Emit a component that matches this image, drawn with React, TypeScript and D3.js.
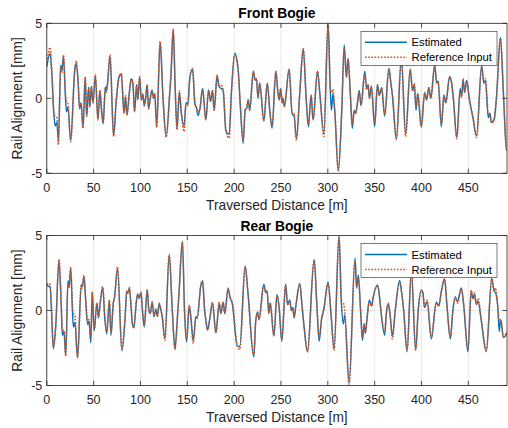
import { useEffect } from "react";
import * as d3 from "d3";

// axis ticks and labels
const xTicks = [0, 50, 100, 150, 200, 250, 300, 350, 400, 450];
const yTicks = [-5, 0, 5];
const seriesNames = ["Estimated", "Reference Input"];
const panelTitles = ["Front Bogie", "Rear Bogie"];
const xLabel = "Traversed Distance [m]";
const yLabel = "Rail Alignment [mm]";

// front bogie (distance in m, alignment in mm)
const frontDist = [
  0, 3.5, 5.5, 7.7, 9, 10.8, 12.4, 14.8, 16, 17.8,
  19.8, 21, 22.5, 25.5, 30, 31.5, 33.6, 35, 36.5, 38.7,
  41, 42.6, 44.7, 46, 47.6, 49.3, 51.8, 54.6, 56.7, 58.3,
  60.2, 62.5, 63.6, 64.8, 67.5, 71.3, 74, 77, 79.5, 82.5,
  84, 85.6, 88, 90.2, 92, 93.7, 95.9, 97.2, 99.1, 101,
  102.6, 104, 105.5, 107.2, 108.6, 111, 112.3, 114, 115.2, 117.3,
  121, 124, 127.5, 131, 132.5, 135, 137, 139, 140.2, 141.5,
  143.5, 146.6, 148.6, 150.5, 152.8, 155.6, 158.2, 159.6, 161.5, 163.5,
  166.3, 169.8, 172.7, 174.8, 176.9, 178.7, 181.8, 183.8, 186, 188.3,
  191.2, 194.7, 197, 200.7, 204.3, 206.6, 209.6, 211.8, 213.5, 215,
  216.6, 220.5, 222.5, 223.8, 225.5, 227.3, 231.7, 235.4, 238, 240.5,
  244.5, 246.5, 248.1, 249.7, 251.3, 252.3, 253.6, 258.7, 262, 263.8,
  266.5, 270, 273.8, 276.8, 279.3, 282.2, 284.3, 289, 291.5, 295.8,
  300.3, 302.7, 303.9, 305.5, 307.4, 311.2, 314.9, 317.5, 319.9, 321.6,
  324.2, 326.2, 328.2, 329.6, 331.5, 333.5, 335.5, 339.5, 341.5, 343,
  344.5, 346.5, 350, 353, 355, 357.5, 360.7, 365.2, 367.5, 369,
  373.2, 378.5, 383.1, 388, 390.5, 392.3, 394.2, 396, 399.8, 403.4,
  405.5, 407.8, 410, 414.1, 416.3, 417.8, 421.2, 424, 426, 430,
  432, 434, 437.7, 441.3, 442.8, 444.4, 446, 448.3, 451, 455,
  458.8, 464.3, 466.5, 468.3, 471.3, 473, 474.7, 477.5, 480, 484.3,
  487.5, 490.8, 491.3,
];
const frontRef = [
  2.2, 3.4, 1.6, -1.1, -1.2, -1.3, -3.1, 2.0, 1.7, 2.9,
  0.4, -0.2, -0.3, -2.9, 2.0, 2.5, 0.9, -0.6, -0.3, -2.0,
  1.45, -1.2, 0.7, -0.5, 0.8, -0.3, 1.6, -1.45, 0.55, -0.6,
  -1.6, 0.7, 0.4, 0.9, 2.9, -2.55, -0.2, 1.3, 1.7, -1.0,
  0.2, -1.1, 0.3, 1.3, 0.9, -0.85, 0.9, 0.0, 1.45, -0.1,
  0.3, -0.5, 0.0, 0.9, -0.7, 0.2, 0.5, 0.0, 0.3, -1.95,
  3.8, 0.1, -2.6, 0.2, 1.5, 4.6, 0.8, -2.1, -0.8, 0.5,
  -0.9, -2.2, -0.4, -0.5, 1.45, 2.0, -0.4, -0.6, -0.9, -0.7,
  0.6, -1.4, 0.55, -0.2, 0.55, -0.8, 1.55, 0.8, 0.9, 0.55,
  -2.1, -2.65, 0.2, 2.9, 1.8, -0.5, -2.8, -0.8, -0.6, -0.1,
  -0.8, 1.75, 1.2, 1.3, 0.1, 1.0, -1.5, 1.0, -0.8, -1.9,
  1.8, 0.55, -0.1, 0.65, -0.3, 0.0, -0.55, 1.9, -1.0, -1.0,
  -2.8, 0.3, 3.3, 0.1, -1.75, 0.2, -1.4, 1.8, 0.3, -2.55,
  4.95, 0.6, 0.4, 0.6, -0.8, -4.8, -0.8, 3.3, 1.45, 2.65,
  0.1, -1.75, -0.8, -1.0, -0.4, 0.5, -0.4, 1.6, 0.6, 0.9,
  0.0, 0.8, -1.7, 0.9, 0.2, 0.7, -1.1, 1.9, 0.9, 0.2,
  -2.65, 2.6, -2.55, 1.9, 0.5, 1.0, -0.6, 0.3, -1.9, 0.4,
  -0.1, 0.7, 0.0, 2.2, 1.0, 1.2, -1.7, 0.2, -0.3, 1.4,
  1.1, 0.0, -2.7, 0.4, 0.1, 1.3, 0.4, 1.1, 0.0, -1.3,
  -2.6, 2.1, 1.1, 1.3, -1.0, -1.0, -1.65, -1.5, 0.0, 4.0,
  0.3, -3.4, -3.3,
];
const frontEst = [
  2.1, 3.0, 1.5, -1.2, -1.85, -1.6, -2.9, 2.2, 1.8, 2.8,
  0.2, -0.9, -0.6, -2.8, 2.0, 2.3, 0.9, -0.7, -0.3, -1.95,
  1.4, -1.2, 0.75, -0.6, 0.8, -0.3, 1.5, -1.4, 0.5, -0.7,
  -1.7, 0.75, 0.5, 1.0, 2.8, -2.5, -0.3, 1.4, 1.6, -1.0,
  0.1, -1.1, 0.3, 1.3, 0.9, -0.9, 0.9, -0.1, 1.4, -0.1,
  0.25, -0.5, 0.0, 0.9, -0.7, 0.2, 0.55, 0.0, 0.3, -1.85,
  3.75, 0.1, -2.55, 0.1, 1.5, 4.6, 0.8, -2.0, -0.9, 0.4,
  -0.9, -1.85, -0.3, -0.4, 1.4, 1.95, -0.4, -0.6, -1.15, -0.7,
  0.65, -1.45, 0.55, -0.2, 0.5, -0.8, 1.5, 0.8, 0.65, 0.5,
  -2.2, -2.4, 0.3, 3.0, 1.9, -0.5, -3.0, -0.75, -0.65, -0.1,
  -0.8, 1.8, 1.2, 1.3, 0.0, 1.0, -1.5, 1.0, -0.8, -2.0,
  1.8, 0.55, -0.1, 0.65, -0.3, 0.0, -0.55, 1.95, -1.1, -1.1,
  -2.7, 0.3, 3.3, 0.1, -1.9, 0.2, -1.45, 1.8, 0.3, -2.35,
  4.95, 0.5, -0.8, 0.3, -0.8, -4.85, -0.8, 3.55, 1.4, 2.65,
  0.1, -2.0, -0.8, -1.0, -0.4, 0.5, -0.5, 1.8, 0.6, 0.9,
  0.0, 0.8, -1.9, 0.9, 0.2, 0.7, -1.2, 2.0, 0.9, 0.2,
  -2.75, 2.6, -2.4, 1.95, 0.5, 0.9, -0.8, 0.3, -1.9, 0.35,
  -0.1, 0.7, 0.0, 2.2, 1.0, 1.1, -1.9, 0.2, -0.3, 1.45,
  1.1, 0.0, -2.6, 0.65, 0.1, 1.25, 0.4, 1.2, 0.0, -1.3,
  -2.5, 2.2, 1.0, 1.2, -1.3, -1.0, -1.6, -1.4, 0.0, 4.05,
  0.3, -3.45, -3.45,
];

// rear bogie
const rearDist = [
  0, 2, 3.6, 5, 7, 9.5, 13, 15.5, 16.6, 18.3,
  20.2, 22.6, 23.8, 25.5, 27.5, 28.5, 30, 32.8, 36.8, 38,
  39.6, 41.5, 43.6, 45, 47, 48.5, 50.6, 53.5, 55.2, 57,
  59.7, 62, 64, 66.8, 68.5, 71, 72.3, 75.5, 80.2, 83.5,
  85.3, 86.5, 88.2, 90, 91.6, 93, 95.5, 97, 98.5, 100.5,
  102.5, 104, 107.2, 109, 110.5, 112.5, 114.5, 116.5, 118, 120,
  121.5, 123, 126.1, 130.7, 134, 136.8, 139.5, 141, 144.8, 147,
  149.2, 152.1, 154, 156.3, 159.2, 160.5, 164.5, 166.3, 168.5, 169.7,
  171.6, 173.5, 176.9, 180.5, 184.1, 185.8, 188.3, 190, 193.6, 195.5,
  198.2, 203.2, 206, 211.8, 214.5, 221, 223, 225, 226.5, 231.7,
  233.7, 235.2, 237, 238.5, 242.4, 245.8, 248, 250.9, 255, 257,
  259.4, 261, 262.6, 264, 266, 270.1, 272.5, 274.7, 278.3, 285.4,
  288.5, 290.7, 293.5, 295.5, 300.3, 303.5, 306.7, 312, 314.5, 316.6,
  318, 322.7, 329.1, 330.8, 332.6, 335, 337, 338.8, 340, 341.8,
  344.3, 346.8, 348.5, 353.3, 355.5, 357, 360.7, 362.5, 364.5, 366.5,
  369, 372, 376.7, 378.5, 381, 384.6, 389.2, 393.8, 396.5, 399.9,
  401.5, 403.3, 406, 410.5, 415.8, 418.5, 421, 424.7, 427, 430.8,
  433.5, 436.1, 438.5, 442.5, 445, 449.6, 453.1, 454.8, 456.6, 458.5,
  460.5, 463.5, 469.2, 475, 477.5, 479, 481.5, 483, 484.5, 487.5,
  491.3,
];
const rearRef = [
  1.7, 1.8, 1.7, 0.2, -2.4, -1.0, 3.4, 0.3, -1.3, -1.3,
  -3.05, 1.8, 1.5, 2.9, 0.2, -0.2, -0.3, -3.1, 1.7, 1.5,
  2.35, 0.8, -0.8, -0.6, -1.85, 1.2, -1.3, 0.5, -0.4, 0.5,
  1.6, -0.5, -1.4, 0.7, -1.5, 0.5, 0.8, 2.9, -2.55, -0.5,
  1.3, 1.15, 1.55, 0.2, -1.0, -1.1, 0.6, 1.0, 0.8, 1.25,
  -0.3, -1.0, 1.4, 0.0, -0.2, 0.6, -0.4, 0.1, -0.4, 0.5,
  0.1, -0.3, -2.0, 3.75, 0.0, -2.6, -0.4, 1.0, 4.55, 0.0,
  -1.9, 0.35, -0.6, -2.2, -0.45, -0.5, 1.7, 2.0, 0.0, -0.6,
  -1.3, -0.75, 0.55, -1.45, 0.55, -0.2, 0.55, -0.2, 1.45, 0.9,
  0.5, -2.3, -2.6, 2.9, 1.3, -3.0, -0.75, -0.1, -0.6, 1.7,
  1.2, 1.3, -0.2, 0.5, -1.65, 1.0, 0.2, -1.9, 1.7, 0.4,
  0.7, 0.0, 0.2, -0.4, 0.4, 1.8, 0.3, -1.1, -2.75, 3.35,
  0.2, -1.8, -0.5, 0.0, 1.8, -0.3, -2.65, 4.95, 0.6, 0.5,
  0.0, -4.9, 3.3, 1.6, 2.1, 0.0, -1.75, -0.9, -1.5, -0.6,
  0.6, 0.3, 0.9, 1.65, 0.7, -0.2, -1.4, -0.2, 0.5, -0.3,
  -1.9, 0.0, 1.9, 1.3, 0.0, -2.6, 2.6, -2.6, 0.0, 1.35,
  1.1, 0.2, 0.7, -1.75, 0.5, 0.3, 1.2, 2.1, 0.5, -1.75,
  0.0, 0.9, 0.5, 1.45, 0.5, -2.6, 1.35, 0.8, 1.2, 0.4,
  0.8, -0.5, -2.65, 2.1, 1.3, 1.5, 0.2, -0.7, -0.6, -1.75,
  -1.4,
];
const rearEst = [
  1.7, 1.6, 1.6, 0.0, -2.55, -1.1, 3.35, 0.2, -1.65, -1.4,
  -3.0, 2.0, 1.6, 2.8, -0.2, -1.1, -0.8, -3.15, 1.7, 1.6,
  2.3, 0.7, -0.95, -0.7, -2.15, 1.25, -1.35, 0.5, -0.5, 0.5,
  1.55, -0.6, -1.55, 0.65, -1.65, 0.5, 0.9, 2.8, -2.7, -0.6,
  1.25, 1.2, 1.5, 0.2, -0.95, -1.15, 0.5, 1.1, 0.8, 1.2,
  -0.3, -1.1, 1.35, 0.0, -0.2, 0.55, -0.4, 0.1, -0.4, 0.45,
  0.1, -0.3, -1.85, 3.7, 0.0, -2.55, -0.4, 1.0, 4.6, 0.0,
  -2.1, 0.3, -0.6, -2.0, -0.4, -0.5, 1.7, 1.95, 0.0, -0.6,
  -1.3, -0.75, 0.5, -1.5, 0.5, -0.2, 0.55, -0.2, 1.5, 0.9,
  0.4, -2.35, -2.4, 2.95, 1.4, -3.1, -0.75, -0.1, -0.6, 1.75,
  1.2, 1.3, -0.2, 0.5, -1.7, 1.05, 0.2, -2.05, 1.75, 0.4,
  0.7, 0.0, 0.2, -0.5, 0.35, 1.8, 0.3, -1.1, -2.75, 3.4,
  0.1, -2.05, -0.5, 0.0, 1.9, -0.3, -2.55, 4.95, 0.5, -0.9,
  -0.3, -4.85, 3.5, 1.5, 2.35, 0.0, -2.0, -0.9, -1.5, -0.6,
  0.7, 0.3, 0.9, 1.7, 0.7, -0.2, -1.65, -0.2, 0.45, -0.3,
  -1.7, 0.0, 2.0, 1.35, 0.0, -2.75, 2.6, -2.65, 0.0, 1.35,
  1.2, 0.2, 0.6, -1.9, 0.55, 0.3, 1.2, 2.1, 0.5, -1.9,
  0.0, 0.9, 0.6, 1.5, 0.4, -2.75, 1.3, 0.8, 1.1, 0.4,
  0.6, -0.5, -2.75, 2.15, 1.3, 1.2, 0.2, -1.4, -0.6, -1.8,
  -1.5,
];

const W = 508;
const H = 428;
const FONT = "'Liberation Sans', Arial, Helvetica, sans-serif";
const AXIS = "#262626";
const GRID = "#dfdfdf";
const BLUE = "#0072BD";
const ORANGE = "#D95319";

const left = 46.8;
const right = 507;
const plotH = 150;
const tickLen = 4.6;

const x = d3.scaleLinear().domain([0, 491.3]).range([left, right]);

type PanelProps = {
  id: string;
  top: number;
  title: string;
  dist: number[];
  refVals: number[];
  estVals: number[];
};

function Panel({ id, top, title, dist, refVals, estVals }: PanelProps) {
  const bottom = top + plotH;
  const y = d3.scaleLinear().domain([-5, 5]).range([bottom, top]);

  const line = d3
    .line<number>()
    .x((_, i) => x(dist[i]))
    .y((d) => y(d))
    .curve(d3.curveMonotoneX);

  const midY = (top + bottom) / 2;
  const lgX = 361;
  const lgY = top + 8;

  return (
    <g>
      <defs>
        <clipPath id={id}>
          <rect x={left} y={top} width={right - left} height={plotH} />
        </clipPath>
      </defs>
      <rect x={left} y={top} width={right - left} height={plotH} fill="#fff" />

      {/* grid */}
      {xTicks.map((t) => (
        <line key={"gx" + t} x1={x(t)} x2={x(t)} y1={top} y2={bottom} stroke={GRID} strokeWidth={0.7} />
      ))}
      {yTicks.map((t) => (
        <line key={"gy" + t} x1={left} x2={right} y1={y(t)} y2={y(t)} stroke={GRID} strokeWidth={0.7} />
      ))}

      {/* series */}
      <g clipPath={`url(#${id})`}>
        <path d={line(estVals) || ""} fill="none" stroke={BLUE} strokeWidth={1.4} strokeLinejoin="round" />
        <path
          d={line(refVals) || ""}
          fill="none"
          stroke={ORANGE}
          strokeWidth={1.6}
          strokeDasharray="1.6 1.6"
        />
      </g>

      {/* box and ticks */}
      <rect x={left} y={top} width={right - left} height={plotH} fill="none" stroke={AXIS} strokeWidth={0.8} />
      {xTicks.map((t) => (
        <g key={"tx" + t}>
          <line x1={x(t)} x2={x(t)} y1={bottom} y2={bottom - tickLen} stroke={AXIS} strokeWidth={0.8} />
          <line x1={x(t)} x2={x(t)} y1={top} y2={top + tickLen} stroke={AXIS} strokeWidth={0.8} />
          <text x={x(t)} y={bottom + 18.7} textAnchor="middle" fontSize={12.5} fill={AXIS} fontFamily={FONT}>
            {t}
          </text>
        </g>
      ))}
      {yTicks.map((t) => (
        <g key={"ty" + t}>
          <line x1={left} x2={left + tickLen} y1={y(t)} y2={y(t)} stroke={AXIS} strokeWidth={0.8} />
          <line x1={right} x2={right - tickLen} y1={y(t)} y2={y(t)} stroke={AXIS} strokeWidth={0.8} />
          <text x={left - 4.5} y={y(t) + 4.5} textAnchor="end" fontSize={12.5} fill={AXIS} fontFamily={FONT}>
            {t}
          </text>
        </g>
      ))}

      {/* labels */}
      <text x={(left + right) / 2} y={top - 5} textAnchor="middle" fontSize={13.75} fontWeight="bold" fill="#000" fontFamily={FONT}>
        {title}
      </text>
      <text x={(left + right) / 2} y={bottom + 36.8} textAnchor="middle" fontSize={13.75} fill={AXIS} fontFamily={FONT}>
        {xLabel}
      </text>
      <text
        transform={`translate(${21.5},${midY}) rotate(-90)`}
        textAnchor="middle"
        fontSize={13.75}
        fill={AXIS}
        fontFamily={FONT}
      >
        {yLabel}
      </text>

      {/* legend */}
      <rect x={lgX} y={lgY} width={136} height={34} fill="#fff" stroke={AXIS} strokeWidth={0.6} />
      <line x1={lgX + 4} x2={lgX + 46} y1={lgY + 11} y2={lgY + 11} stroke={BLUE} strokeWidth={1.4} />
      <line
        x1={lgX + 4}
        x2={lgX + 46}
        y1={lgY + 26}
        y2={lgY + 26}
        stroke={ORANGE}
        strokeWidth={1.6}
        strokeDasharray="1.6 1.6"
      />
      <text x={lgX + 50.5} y={lgY + 15} fontSize={11.3} fill="#000" fontFamily={FONT}>
        {seriesNames[0]}
      </text>
      <text x={lgX + 50.5} y={lgY + 30} fontSize={11.3} fill="#000" fontFamily={FONT}>
        {seriesNames[1]}
      </text>
    </g>
  );
}

export default function App() {
  useEffect(() => {
    document.body.style.margin = "0";
  }, []);

  return (
    <svg
      width={W}
      height={H}
      viewBox={`0 0 ${W} ${H}`}
      style={{ position: "absolute", left: 0, top: 0, background: "#fff" }}
    >
      <rect width={W} height={H} fill="#fff" />
      <Panel id="clipFront" top={23.3} title={panelTitles[0]} dist={frontDist} refVals={frontRef} estVals={frontEst} />
      <Panel id="clipRear" top={235.5} title={panelTitles[1]} dist={rearDist} refVals={rearRef} estVals={rearEst} />
    </svg>
  );
}
